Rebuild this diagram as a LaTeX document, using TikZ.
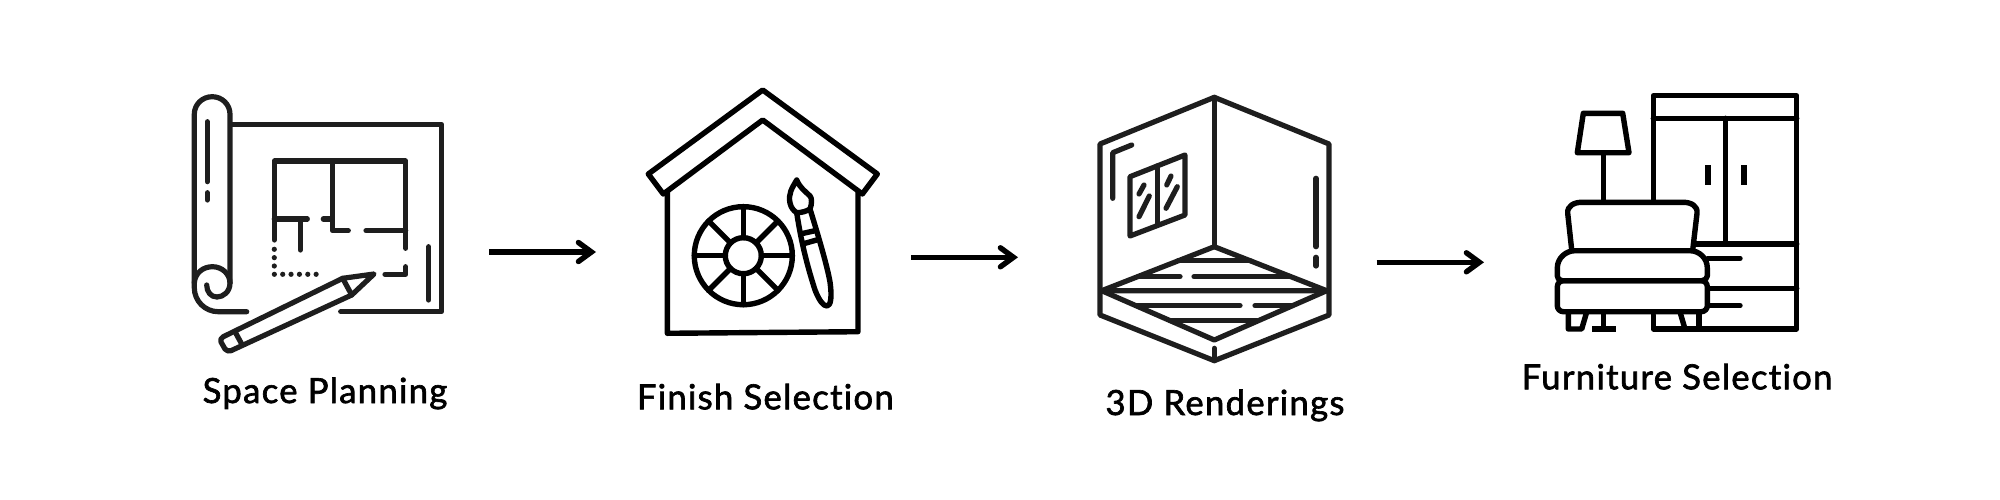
\documentclass[tikz,border=0pt]{standalone}
\usepackage{fontspec}
\setmainfont{Lato}[Ligatures={NoCommon,NoRequired,NoContextual}]
\usetikzlibrary{arrows.meta}
\definecolor{inksoft}{HTML}{1E1E1E}
\tikzset{
  icon/.style={draw=inksoft, line width=0.052cm, line cap=round, line join=round},
  iconb/.style={draw=black, line width=0.054cm, line cap=round, line join=round},
  flow/.style={draw=black, line width=0.054cm, -{Straight Barb[length=0.13cm,width=0.19cm,line cap=round]}},
  caption/.style={anchor=base, text=black, inner sep=0pt, font=\fontsize{9.85}{11}\selectfont\addfontfeature{LetterSpace=3.8,FakeBold=1.9}}
}
\begin{document}
\begin{tikzpicture}[x=0.01cm, y=-0.01cm]
\useasboundingbox (0,0) rectangle (2000,500);
\coordinate (planout) at (489.3,252);
\coordinate (finishin) at (596,252);
\coordinate (finishout) at (911,257.3);
\coordinate (renderin) at (1018,257.3);
\coordinate (renderout) at (1376.7,262.3);
\coordinate (furnin) at (1484,262.3);
\coordinate (wheel) at (743.3,255.7);

\draw[icon] (230,283) -- (230,114.3) .. controls (230,104.4) and (222,96.7) .. (212.2,96.7) .. controls (202.3,96.7) and (194.3,104.4) .. (194.3,114.3) -- (194.3,287.7) .. controls (194.3,301) and (205,311.7) .. (218.3,311.7) -- (246.7,311.7);
\draw[icon] (194.3,283) .. controls (195,273) and (203,266.7) .. (212.5,266.7) .. controls (222,266.7) and (230,274) .. (230,283) .. controls (230,292) and (223,297) .. (217,297) .. controls (211,297) and (206.7,292) .. (206.7,285);
\draw[icon] (231.7,124.3) -- (441.7,124.3) -- (441.7,311.7) -- (340.7,311.7);
\draw[icon] (207.3,121.7) -- (207.3,181.7);
\draw[icon] (207.3,192.7) -- (207.3,200);
\draw[icon] (274.3,240) -- (274.3,161) -- (405.7,161) -- (405.7,248.3);
\draw[icon] (332.3,161) -- (332.3,230.7) -- (348.3,230.7);
\draw[icon] (366,230.7) -- (405.7,230.7);
\draw[icon] (274.3,219) -- (307.3,219);
\draw[icon] (323.3,219) -- (332.3,219);
\draw[icon] (300.3,219) -- (300.3,250);
\draw[icon, dash pattern=on 0pt off 0.0835cm] (274.3,249.3) -- (274.3,274.3) -- (324.3,274.3);
\draw[icon] (385,274.3) -- (405.7,274.3) -- (405.7,266.7);
\draw[icon] (428.7,246.7) -- (428.7,300);
\draw[icon] (374,274) -- (342.7,278.3) -- (223.3,336.7) .. controls (221,338) and (220,340) .. (221,342) -- (225,349) .. controls (226.5,351) and (229,351.5) .. (231,350.7) -- (351.7,295) -- cycle;
\draw[icon] (235,331.7) -- (241.7,344);
\draw[icon] (342.7,278.3) -- (351.7,295);

\draw[iconb] (663.3,194) -- (648.3,174) -- (762.7,90) -- (877.3,174) -- (862.3,194) -- (762.7,120) -- cycle;
\draw[iconb] (667.3,191.7) -- (667.3,333.3) -- (858,331.7) -- (858,191.7);
\draw[iconb] (wheel) circle[radius=0.49cm];
\draw[iconb] (wheel) circle[radius=0.18cm];
\foreach \a in {0,45,...,315}
  \draw[iconb] (wheel) ++(\a:0.18cm) -- ++(\a:0.31cm);
\draw[iconb] (796.7,180) .. controls (792,188) and (788,194) .. (790,203) .. controls (791,208) and (794,211) .. (796.7,212.7) .. controls (802,212.7) and (807,211) .. (810,209) .. controls (812,204) and (812,198) .. (810,196) .. controls (805,191) and (800,188) .. (796.7,180);
\draw[iconb] (796.7,212.7) .. controls (801,240) and (806,262) .. (815,290) .. controls (819,300) and (823,306) .. (827,306) .. controls (831,306) and (832,296) .. (830,282) .. controls (827,265) and (818,235) .. (810,209);
\draw[iconb] (803.3,233.3) -- (815,230.7);
\draw[iconb] (805,243.3) -- (816.7,240);

\draw[icon] (1214.3,97.3) -- (1100,144) -- (1100,315) -- (1214.3,360.7) -- (1329,315) -- (1329,144) -- cycle;
\draw[icon] (1214.3,97.3) -- (1214.3,246.7);
\draw[icon] (1214.3,246.7) -- (1101.7,290.7) -- (1326.7,290.7) -- cycle;
\draw[icon] (1101.7,290.7) -- (1214.3,340) -- (1326.7,290.7);
\draw[icon] (1214.3,348.3) -- (1214.3,360.7);
\draw[icon] (1178.3,260.7) -- (1250.3,260.7);
\draw[icon] (1138.3,276.7) -- (1180,276.7);
\draw[icon] (1194,276.7) -- (1290,276.7);
\draw[icon] (1136.7,305.7) -- (1240,305.7);
\draw[icon] (1255,305.7) -- (1291.7,305.7);
\draw[icon] (1170,320.7) -- (1256.7,320.7);
\draw[icon] (1112.7,198.3) -- (1112.7,152.7) -- (1131.7,145);
\draw[icon] (1130,176.7) -- (1185,155) -- (1185,215) -- (1130,236) -- cycle;
\draw[icon] (1157.3,165.7) -- (1157.3,225);
\draw[icon] (1139,216.7) -- (1149.3,196);
\draw[icon] (1139,194) -- (1144,185);
\draw[icon] (1166,208.3) -- (1177.3,186.7);
\draw[icon] (1166.7,185) -- (1171,176);
\draw[icon] (1316,178.3) -- (1316,246.7);
\draw[icon] (1316,257.3) -- (1316,266);

\draw[iconb] (1653.3,200) -- (1653.3,95.7) -- (1796.7,95.7) -- (1796.7,329) -- (1653.3,329) -- (1653.3,315);
\draw[iconb] (1653.3,118.3) -- (1796.7,118.3);
\draw[iconb] (1725.3,118.3) -- (1725.3,243.3);
\draw[iconb] (1695,244) -- (1796.7,244);
\draw[iconb, line cap=butt, line width=0.06cm] (1707.7,165) -- (1707.7,185);
\draw[iconb, line cap=butt, line width=0.06cm] (1743.7,165) -- (1743.7,185);
\draw[iconb] (1708,258.3) -- (1740,258.3);
\draw[iconb] (1708.3,288.3) -- (1796.7,288.3);
\draw[iconb] (1708,305.7) -- (1740,305.7);
\draw[iconb] (1583.3,113.3) -- (1622.7,113.3) -- (1629,152.7) -- (1577.3,152.7) -- cycle;
\draw[iconb] (1603.3,152.7) -- (1603.3,201.7);
\draw[iconb] (1571.7,250) -- (1567.7,213.3) .. controls (1567,206) and (1574,202.3) .. (1581.7,202.3) -- (1683.3,202.3) .. controls (1691,202.3) and (1698,206) .. (1697,213.3) -- (1692.7,250);
\draw[iconb] (1562,280.7) .. controls (1559,280.7) and (1557.3,278) .. (1557.3,276) -- (1557.3,268) .. controls (1557.3,258) and (1566,250.7) .. (1575,250.7) -- (1690,250.7) .. controls (1699,250.7) and (1707.3,258) .. (1707.3,268) -- (1707.3,276) .. controls (1707.3,278) and (1705,280.7) .. (1702,280.7) -- cycle;
\draw[iconb, rounded corners=0.06cm] (1557.3,280.7) rectangle (1707.3,311.7);
\draw[iconb] (1568.3,312) -- (1568.3,329) -- (1581.7,329) -- (1586.7,312);
\draw[iconb] (1603.3,312) -- (1603.3,329);
\draw[iconb, line cap=butt] (1592.3,329) -- (1615.7,329);
\draw[iconb] (1680,312) -- (1685,329);
\draw[iconb] (1699,312) -- (1699,329);

\draw[flow] (planout) -- (finishin);
\draw[flow] (finishout) -- (renderin);
\draw[flow] (renderout) -- (furnin);

\node[caption] (plan) at (325,403) {Space Planning};
\node[caption] (finish) at (765.3,409.3) {Finish Selection};
\node[caption] (render) at (1225,415) {3D Renderings};
\node[caption] (furn) at (1677,389.3) {Furniture Selection};
\end{tikzpicture}
\end{document}
